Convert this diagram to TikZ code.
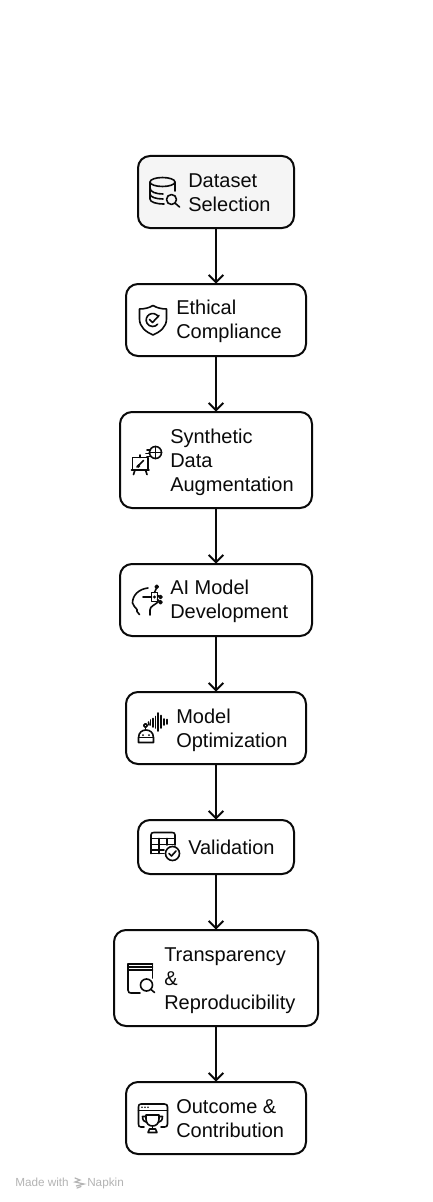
\documentclass[tikz,border=0pt]{standalone}
\usepackage{fontspec}
\setmainfont{Liberation Sans}
\usetikzlibrary{arrows.meta}
\definecolor{ink}{HTML}{0A0A0A}
\definecolor{firstfill}{HTML}{F5F5F5}
\definecolor{foot}{HTML}{B4B4B4}
\tikzset{
  stepbox/.style={draw=ink,line width=1.5pt,rounded corners=9pt,inner sep=0pt,fill=white},
  steptext/.style={anchor=west,inner sep=0pt,align=left,text=ink,font=\fontsize{15}{18}\selectfont},
  flow/.style={draw=ink,line width=1.5pt,shorten >=-0.5pt,-{Straight Barb[length=5.5pt,width=11pt,line width=1.5pt]}},
  ico/.style={draw=ink,line width=1.2pt,line cap=round,line join=round},
  footer/.style={inner sep=0pt,anchor=base west,text=foot,font=\fontsize{8.8}{10}\selectfont},
}
\newcommand{\boxnode}[6]{% name, x1, y1, x2, y2, extra
  \node[stepbox,#6,minimum width={(#4-#2)*0.75pt},minimum height={(#5-#3)*0.75pt}] (#1) at ({(#2+#4)/2},{(#3+#5)/2}) {};
}
\begin{document}
\begin{tikzpicture}[x=0.75pt,y=-0.75pt]
\useasboundingbox (0,0) rectangle (432,1202);
\fill[white] (0,0) rectangle (432,1202);
\boxnode{dataset}{138}{156}{294}{228}{fill=firstfill}
\boxnode{ethical}{126}{284}{306}{356}{}
\boxnode{synth}{120}{412}{312}{508}{}
\boxnode{aimodel}{120}{564}{312}{636}{}
\boxnode{optim}{126}{692}{306}{764}{}
\boxnode{valid}{138}{820}{294}{874}{}
\boxnode{transp}{114}{930}{318}{1026}{}
\boxnode{outcome}{126}{1082}{306}{1154}{}

\draw[flow] (dataset) -- (ethical);
\draw[flow] (ethical) -- (synth);
\draw[flow] (synth) -- (aimodel);
\draw[flow] (aimodel) -- (optim);
\draw[flow] (optim) -- (valid);
\draw[flow] (valid) -- (transp);
\draw[flow] (transp) -- (outcome);

\node[steptext] (t1) at (188,193) {Dataset\\Selection};
\node[steptext] (t2) at (176,321.5) {Ethical\\Compliance};
\node[steptext] (t3) at (170,462) {Synthetic\\Data\\Augmentation};
\node[steptext] (t4) at (170,601.5) {AI Model\\Development};
\node[steptext] (t5) at (176,730) {Model\\Optimization};
\node[steptext] (t6) at (188,847) {Validation};
\node[steptext] (t7) at (164,980.5) {Transparency\\\&\\Reproducibility};
\node[steptext] (t8) at (176,1119) {Outcome \&\\Contribution};

% database + magnifier
\draw[ico] (162.5,182) ellipse (12.5 and 4.5);
\draw[ico] (150,182) -- (150,199) .. controls (150,202) and (156,204) .. (164,204);
\draw[ico] (175,182) -- (175,191);
\draw[ico] (150,188) .. controls (150,192) and (156,194) .. (163,194);
\draw[ico] (150,194) .. controls (150,197) and (156,199) .. (163,199);
\draw[ico] (171.5,199.5) circle (5);
\draw[ico] (175.3,203.3) -- (179.5,207);

% shield + check
\draw[ico] (153,305.5) .. controls (157,308) and (162,309) .. (166.5,309) -- (166.5,319) .. controls (166.5,327) and (160,332) .. (153,335) .. controls (146,332) and (139.5,327) .. (139.5,319) -- (139.5,309) .. controls (144,309) and (149,308) .. (153,305.5) -- cycle;
\draw[ico] (158.3,316.75) arc (-30:-320:6.5);
\draw[ico] (149.5,319.5) -- (152.5,322.5) -- (159,315.5);

% easel + globe
\draw[ico] (132.5,457.5) rectangle (148,470);
\draw[ico] (140,457.5) -- (140,455);
\draw[ico] (131.5,470) -- (149,470);
\draw[ico] (135,470) -- (133.5,474.5);
\draw[ico] (145.5,470) -- (147,474.5);
\draw[ico] (137,467) -- (143.5,460.5);
\fill[ink] (138.5,466) circle (1.8);
\draw[ico] (155.5,452.5) circle (6);
\draw[ico] (155.5,446.5) -- (155.5,458.5);
\draw[ico] (149.5,452.5) -- (161.5,452.5);
\draw[ico] (147,450) -- (150.5,450);
\draw[ico] (146,453.5) -- (149.5,453.5);
\draw[ico] (147,456.5) -- (150.5,456.5);

% head + circuit
\draw[ico] (148,588) .. controls (139,589) and (132.5,595) .. (132.5,603) .. controls (132.5,606) and (136,607) .. (137,609.5) -- (137,611.5) -- (139.5,614.5);
\draw[ico] (150,615) -- (150,610) .. controls (150,606) and (155,605) .. (158,602);
\draw[ico] (143,597) -- (151.5,597);
\draw[ico] (151.5,592.5) rectangle (157.5,601.5);
\draw[ico] (154.5,592.5) -- (156.5,588);
\draw[ico] (157.5,595.5) -- (159.5,596.5);
\draw[ico] (157.5,599.5) -- (159.5,601.5);
\draw[ico] (156.8,586.8) circle (1.5);
\draw[ico] (160.5,597) circle (1.5);
\draw[ico] (160.5,602.3) circle (1.5);
\fill[ink] (154.5,597) circle (1.6);

% robot + waveform
\draw[ico] (138.5,742.5) -- (153.5,742.5) -- (153.5,738) .. controls (153.5,732) and (149.5,730) .. (146,730) .. controls (142.5,730) and (138.5,732) .. (138.5,738) -- cycle;
\draw[ico] (138.5,737.5) -- (153.5,737.5);
\draw[ico] (145.5,730) -- (145.5,727.5);
\draw[ico] (145.5,725.5) circle (1.9);
\fill[ink] (143,735) circle (1) (149,735) circle (1);
\draw[ico] (148.5,722) -- (149,725);
\draw[ico] (150.5,720) -- (150.5,725);
\draw[ico] (153,718.5) -- (153,727);
\draw[ico] (155.5,716.5) -- (155.5,728);
\draw[ico] (158,713) -- (158,731);
\draw[ico] (161,715.5) -- (161,728);
\draw[ico] (164,719) -- (164,725);
\draw[ico] (167,719.5) -- (167,724);

% table + check
\draw[ico] (151,853.5) -- (151,835) .. controls (151,833) and (152,832.5) .. (154,832.5) -- (172,832.5) .. controls (174,832.5) and (175,833) .. (175,835) -- (175,845);
\draw[ico] (151,853.5) -- (164,853.5);
\draw[ico] (151,838.5) -- (175,838.5);
\draw[ico] (151,844.5) -- (175,844.5);
\draw[ico] (151,850) -- (164,850);
\draw[ico] (159,838.5) -- (159,853.5);
\draw[ico] (167,838.5) -- (167,845);
\draw[ico,fill=white] (172.5,853.5) circle (7);
\draw[ico] (169,853.5) -- (171.5,856) -- (176,851);

% book + magnifier
\draw[ico] (128,964) -- (152.5,964);
\draw[ico] (128,967) -- (152.5,967);
\draw[ico] (128,964) -- (128,990) .. controls (128,992.5) and (129.5,993) .. (131,993) -- (140,993);
\draw[ico] (152.5,964) -- (152.5,978);
\draw[ico] (128,970) -- (152.5,970);
\draw[ico] (146.5,985) circle (6);
\draw[ico] (151,989.5) -- (154.5,992.5);

% window + trophy
\draw[ico] (144,1127) -- (141,1127) .. controls (139,1127) and (138.5,1126) .. (138.5,1124) -- (138.5,1107) .. controls (138.5,1105) and (139,1104) .. (141,1104) -- (164.5,1104) .. controls (166.5,1104) and (167.5,1105) .. (167.5,1107) -- (167.5,1124) .. controls (167.5,1126) and (166.5,1127) .. (164.5,1127) -- (161,1127);
\draw[ico] (138.5,1110.5) -- (167.5,1110.5);
\fill[ink] (142,1107.3) circle (0.9) (145,1107.3) circle (0.9) (148,1107.3) circle (0.9);
\draw[ico] (146,1115) -- (159,1115) -- (159,1119) .. controls (159,1124) and (155.5,1126) .. (152.5,1126) .. controls (149.5,1126) and (146,1124) .. (146,1119) -- cycle;
\draw[ico] (146,1116.5) -- (142.5,1116.5) .. controls (142.5,1120) and (144,1122) .. (147,1122.5);
\draw[ico] (159,1116.5) -- (162.5,1116.5) .. controls (162.5,1120) and (161,1122) .. (158,1122.5);
\draw[ico] (152.5,1126) -- (152.5,1129);
\draw[ico] (148,1132.5) -- (157,1132.5) -- (155.5,1129) -- (149.5,1129) -- cycle;

% footer
\node[footer] (made) at (15,1186) {Made with};
\node[footer] (napkin) at (87,1186) {Napkin};
\draw[foot,line width=0.9pt,line cap=round] (75,1178) -- (80,1180) -- (75,1182) -- (84,1184) -- (76,1186) -- (82,1184.5) (77,1188) -- (81,1186.5);
\end{tikzpicture}
\end{document}
